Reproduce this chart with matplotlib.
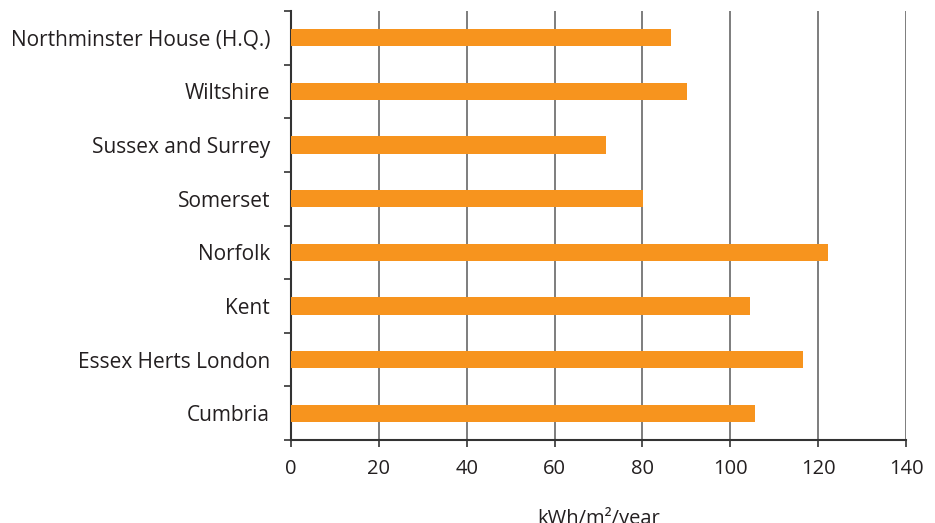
import numpy as np
import matplotlib
matplotlib.use("Agg")
import matplotlib.pyplot as plt

# Categorías (de abajo hacia arriba) y valores en kWh/m2/año
regiones = ["Cumbria", "Essex Herts London", "Kent", "Norfolk",
            "Somerset", "Sussex and Surrey", "Wiltshire",
            "Northminster House (H.Q.)"]
consumo = [105.6, 116.5, 104.5, 122.2, 80.1, 71.6, 90.1, 86.4]
marcas_x = [0, 20, 40, 60, 80, 100, 120, 140]

plt.rcParams["font.family"] = ["Open Sans", "DejaVu Sans"]

fig = plt.figure(figsize=(9.35, 5.23), dpi=100)
ax = fig.add_axes([291 / 935, 1 - 440 / 523, 615 / 935, 429 / 523])

pos = np.arange(len(regiones))
ax.barh(pos, consumo, height=0.32, color="#F7941E", zorder=3)

ax.set_xlim(0, 140)
ax.set_ylim(-0.5, len(regiones) - 0.5)
ax.set_xticks(marcas_x)
ax.set_xticklabels([str(v) for v in marcas_x], fontsize=14.5, color="#231F20")
ax.set_yticks(pos)
ax.set_yticklabels(regiones, fontsize=15, color="#231F20")
ax.tick_params(axis="y", length=0, pad=15)
ax.tick_params(axis="x", length=5, width=1.2, color="#333333", pad=9, direction="out")

# marcas menores entre categorías en el eje y
ax.set_yticks(np.arange(-0.5, len(regiones), 1), minor=True)
ax.tick_params(axis="y", which="minor", length=5, width=1.2, color="#333333", direction="out")

ax.grid(axis="x", color="#5a5a5a", linewidth=1.1, zorder=0)
for lado in ["top", "right"]:
    ax.spines[lado].set_visible(False)
for lado in ["left", "bottom"]:
    ax.spines[lado].set_color("#333333")
    ax.spines[lado].set_linewidth(1.5)

ax.set_xlabel("kWh/m²/year", fontsize=14.5, color="#231F20", labelpad=20)

fig.savefig("out.png", dpi=100)
